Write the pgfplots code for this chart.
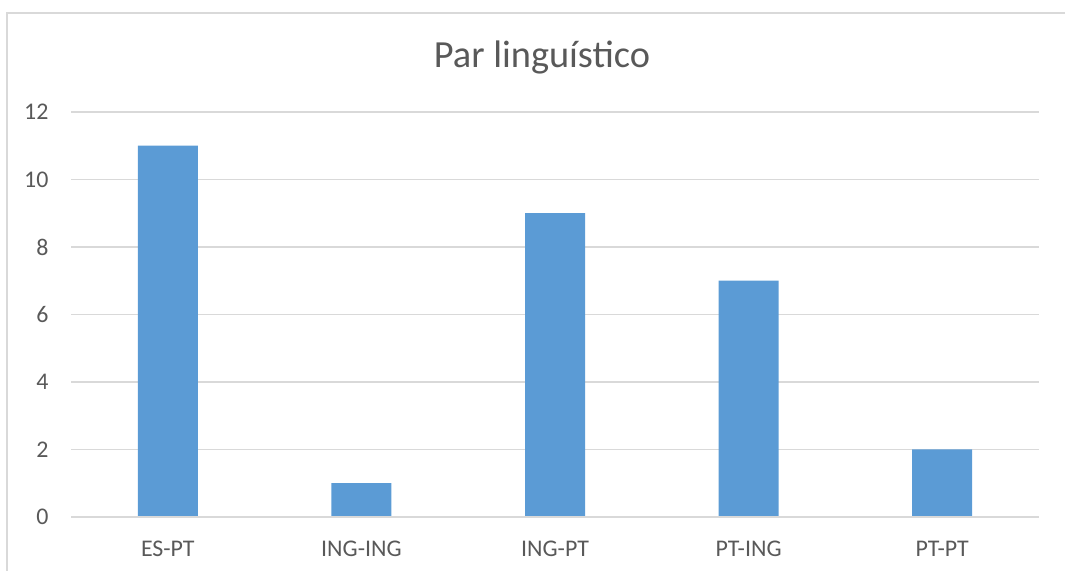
\documentclass[border=0pt]{standalone}
\usepackage{fontspec}
\setmainfont{Carlito}
\usepackage{pgfplots}
\pgfplotsset{compat=1.18}
\definecolor{barblue}{HTML}{5B9BD5}
\definecolor{gridgray}{HTML}{D9D9D9}
\definecolor{txtgray}{HTML}{595959}
\definecolor{bordergray}{HTML}{D9D9D9}
\begin{document}
\begin{tikzpicture}[x=1bp,y=1bp]
\useasboundingbox (0,0) rectangle (1065,571);
\draw[bordergray,line width=1.2bp] (7,-5) -- (7,558) -- (1070,558);
\begin{axis}[
  at={(71bp,54bp)}, anchor=south west,
  width=968bp, height=405bp, scale only axis,
  ymin=0, ymax=12, xmin=-0.5, xmax=4.5,
  ytick={0,2,...,12},
  xtick=data,
  xticklabels={ES-PT,ING-ING,ING-PT,PT-ING,PT-PT},
  axis line style={draw=none},
  major tick length=0pt,
  ymajorgrids, grid style={gridgray, line width=1.2bp},
  tick label style={font=\fontsize{24}{28}\selectfont, text=txtgray},
  yticklabel style={anchor=east, xshift=-19bp},
  xticklabel style={anchor=base, yshift=-40bp},
  /pgf/number format/assume math mode=true,
  clip=false,
]
\addplot[ybar, bar width=60bp, fill=barblue, draw=none] coordinates {(0,11) (1,1) (2,9) (3,7) (4,2)};
\draw[gridgray, line width=1.2bp] (axis cs:-0.5,0) -- (axis cs:4.5,0);
\end{axis}
\node[anchor=base, text=txtgray, font=\fontsize{38.5}{44}\selectfont] at (542,503) {Par linguístico};
\end{tikzpicture}
\end{document}
